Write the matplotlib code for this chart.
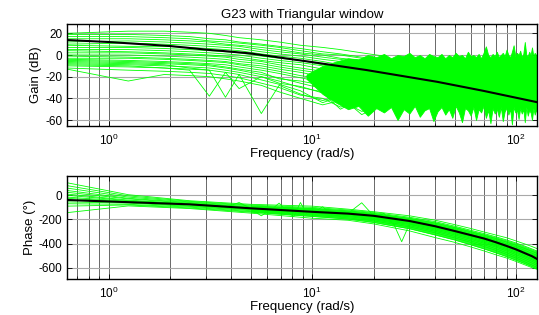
import numpy as np
import matplotlib
matplotlib.use("Agg")
import matplotlib.pyplot as plt
from matplotlib.ticker import LogLocator, NullFormatter, FixedLocator

plt.rcParams['font.family'] = ['Liberation Sans', 'DejaVu Sans']
plt.rcParams['mathtext.fontset'] = 'custom'
plt.rcParams['mathtext.rm'] = 'Liberation Sans'
plt.rcParams['axes.unicode_minus'] = False

title = "G23 with Triangular window"
xlabel = "Frequency (rad/s)"
gain_label = "Gain (dB)"
phase_label = "Phase (\u00b0)"
gain_ticks = [20, 0, -20, -40, -60]
phase_ticks = [0, -200, -400, -600]

# ---- nominal model (black) ----
f_black_gain = [0.625, 1.0, 2.0, 3.15, 3.5, 4.95, 9.7, 18.5, 41, 69, 127]
gain_black = [13.8, 12.0, 8.3, 4.6, 4.0, 1.5, -6.2, -13.9, -24.7, -33.0, -43.5]

f_ph = [0.625, 1.25, 2.5, 5, 10, 15, 20, 30, 40, 50, 60, 70, 80, 90, 100, 110, 120, 127]
phase_black = [-39, -57, -75, -108, -137, -152, -170, -213, -256, -296, -330, -359,
               -390, -420, -448, -478, -505, -528]

# ---- estimated gain curves (green), low / mid frequencies ----
f_lo = [0.625, 1.25, 1.875, 2.5, 3.125, 3.75, 4.375, 5.625, 6.875, 8.75, 11.25, 13.75, 17.5, 22.5]
g01 = [20, 22, 22, 21, 20, 18, 16, 14, 12, 9, 7, 5, 2, -1]
g02 = [19, 19, 18, 17, 15, 14, 12, 10, 8, 6, 3, 1, -2, -4]
g03 = [17, 17, 16, 15, 13, 12, 11, 9, 7, 4, 1, 0, -3, -6]
g04 = [15, 15, 14, 13, 12, 10, 9, 7, 5, 2, 0, -3, -5, -8]
g05 = [12, 13, 12, 11, 10, 9, 8, 5, 3, 1, -2, -4, -7, -10]
g06 = [10, 11, 10, 9, 8, 7, 6, 3, 1, -1, -4, -6, -9, -12]
g07 = [9, 8, 8, 7, 6, 5, 4, 1, -1, -3, -6, -9, -12, -15]
g08 = [7, 7, 6, 5, 4, 3, 2, -1, -3, -5, -9, -11, -14, -17]
g09 = [5, 5, 4, 3, 2, 1, 0, -3, -5, -7, -10, -13, -16, -19]
g10 = [4, 3, 2, 1, 0, -1, -2, -5, -7, -9, -13, -15, -19, -22]
g11 = [2, 2, 1, 0, -1, -2, -4, -6, -9, -12, -15, -18, -22, -25]
g12 = [0, 0, -1, -2, -3, -4, -6, -8, -11, -14, -17, -20, -24, -28]
g13 = [-1, -2, -3, -4, -5, -6, -8, -10, -13, -16, -20, -23, -27, -31]
g14 = [-3, -3, -4, -5, -6, -7, -9, -12, -15, -19, -22, -26, -30, -34]
g15 = [-4, -5, -6, -7, -8, -9, -11, -14, -17, -21, -25, -29, -33, -37]
g16 = [-5, -6, -7, -8, -9, -11, -13, -16, -22, -24, -28, -33, -36, -40]
g17 = [-6, -7, -8, -9, -10, -12, -14, -18, -21, -26, -31, -35, -38, -42]
g18 = [-8, -9, -10, -11, -12, -14, -16, -20, -24, -30, -34, -40, -42, -45]
g19 = [-10, -11, -12, -13, -14, -16, -18, -23, -27, -33, -44, -38, -45, -48]
g20 = [-12, -14, -15, -16, -17, -19, -21, -26, -30, -37, -40, -48, -44, -50]
g21 = [-13, -24, -18, -19, -20, -22, -24, -28, -34, -40, -46, -42, -52, -47]
g22 = [-9, -10, -12, -14, -38, -16, -31, -20, -26, -29, -35, -50, -40, -46]
g23 = [-7, -8, -9, -12, -14, -39, -18, -54, -28, -36, -42, -38, -55, -45]
gain_lines = [g01, g02, g03, g04, g05, g06, g07, g08, g09, g10, g11, g12,
              g13, g14, g15, g16, g17, g18, g19, g20, g21, g22, g23]

# ---- dense high-frequency gain band (upper / lower envelope) ----
f_hi = np.arange(9.375, 128.0, 1.875)
gain_hi_upper = [-18, -10, -6, -3, -4, 0, -2, 1, -3, 0, -1, 2, -2, 0, -3, 1,
                 -1, -2, 1, -3, 0, -2, 2, -1, 0, -3, 3, -1, 0, -2, 1, -3,
                 2, 8, 0, -2, 1, -1, 3, -2, 0, 2, -1, 5, 0, -2, 3, 9,
                 -1, 2, 0, 4, -2, 1, 12, 0, -1, 3, 0, 7, -1, 2, 0, 1]
gain_hi_lower = [-22, -36, -44, -50, -47, -56, -49, -53, -48, -60, -50, -54, -47, -57, -51, -49,
                 -61, -52, -48, -55, -50, -58, -47, -53, -62, -49, -51, -56, -48, -60, -50, -53,
                 -47, -58, -51, -63, -49, -54, -50, -57, -48, -61, -52, -49, -55, -50, -64, -48,
                 -53, -51, -59, -49, -54, -50, -62, -48, -56, -51, -53, -60, -49, -55, -51, -52]

# ---- estimated phase curves (green) ----
p01 = [104, 5, -45, -75, -90, -115, -136, -170, -206, -243, -275, -305, -330, -352, -378, -402, -425, -442]
p02 = [80, -5, -50, -82, -100, -122, -143, -182, -218, -256, -290, -318, -345, -370, -395, -420, -445, -462]
p03 = [60, -15, -55, -88, -110, -129, -150, -192, -230, -268, -302, -332, -360, -388, -415, -440, -465, -482]
p04 = [40, -25, -60, -95, -118, -137, -158, -202, -240, -278, -312, -342, -372, -402, -428, -455, -480, -498]
p05 = [25, -30, -65, -100, -125, -142, -163, -207, -248, -288, -322, -352, -382, -412, -440, -468, -492, -510]
p06 = [10, -40, -70, -105, -130, -147, -168, -212, -254, -294, -328, -358, -390, -420, -448, -476, -502, -520]
p07 = [0, -45, -72, -110, -135, -152, -175, -219, -263, -303, -338, -368, -400, -430, -458, -486, -512, -532]
p08 = [-15, -50, -78, -115, -140, -157, -182, -227, -270, -310, -345, -378, -410, -440, -470, -498, -525, -545]
p09 = [-25, -55, -82, -118, -145, -162, -187, -235, -278, -318, -355, -388, -420, -450, -480, -508, -535, -555]
p10 = [-40, -60, -88, -122, -150, -169, -195, -242, -288, -328, -365, -398, -430, -462, -492, -520, -548, -568]
p11 = [-55, -65, -92, -128, -158, -177, -202, -252, -298, -340, -378, -410, -444, -476, -506, -535, -562, -582]
p12 = [-70, -75, -98, -135, -165, -187, -212, -262, -310, -353, -390, -425, -458, -490, -520, -550, -578, -598]
p13 = [-90, -80, -105, -140, -175, -197, -225, -277, -328, -370, -410, -445, -478, -508, -538, -565, -592, -610]
p14 = [-144, -88, -110, -148, -190, -207, -237, -295, -350, -390, -428, -462, -494, -520, -548, -575, -600, -613]
phase_lines = [p01, p02, p03, p04, p05, p06, p07, p08, p09, p10, p11, p12, p13, p14]

# short jagged segments in the phase estimates
ps_f = [[12.5, 15, 17.5, 20], [25, 27.5, 30, 32.5], [3.75, 4.375, 5, 5.625],
        [6.25, 6.875, 7.5, 8.125], [7.5, 8.125, 8.75, 9.375], [5, 5.625, 6.25, 6.875],
        [10, 11.25, 12.5, 13.75], [20, 22.5, 25, 27.5]]
ps_v = [[-140, -150, -62, -170], [-230, -385, -240, -250], [-100, -60, -110, -115],
        [-125, -65, -130, -140], [-140, -175, -60, -150], [-115, -170, -120, -125],
        [-150, -95, -160, -175], [-190, -150, -240, -220]]

GREEN = '#00ff00'
FS = 8.5
FL = 9.5

fig = plt.figure(figsize=(5.39, 3.15), dpi=100)
ax1 = fig.add_axes([0.1243, 0.6, 0.872, 0.3238])
ax2 = fig.add_axes([0.1243, 0.1143, 0.872, 0.327])


def style(ax, yticks, ylim):
    ax.set_xscale('log')
    ax.set_xlim(0.625, 127)
    ax.set_ylim(*ylim)
    ax.yaxis.set_major_locator(FixedLocator(yticks))
    ax.xaxis.set_major_locator(LogLocator(base=10, numticks=10))
    ax.xaxis.set_minor_locator(LogLocator(base=10, subs=np.arange(2, 10), numticks=20))
    ax.xaxis.set_minor_formatter(NullFormatter())
    ax.tick_params(which='both', direction='in', top=True, right=True, labelsize=FS,
                   colors='black')
    ax.tick_params(which='major', length=3.5, width=0.6)
    ax.tick_params(which='minor', length=2, width=0.5)
    ax.tick_params(axis='x', which='major', pad=5)
    ax.set_axisbelow(True)
    ax.grid(True, axis='x', which='both', color='#505050', lw=0.6, ls='-')
    ax.grid(True, axis='y', which='major', color='#a8a8a8', lw=0.8, ls='-')
    for s in ax.spines.values():
        s.set_linewidth(1.0)
        s.set_color('black')
    ax.set_xlabel(xlabel, fontsize=FL, labelpad=0)


style(ax1, gain_ticks, (-65.5, 28.6))
style(ax2, phase_ticks, (-694, 160))

# gain
ax1.fill_between(f_hi, gain_hi_lower, gain_hi_upper, color=GREEN, lw=0.6, ec=GREEN)
for g in gain_lines:
    ax1.plot(f_lo, g, color=GREEN, lw=0.6)
ax1.plot(f_black_gain, gain_black, color='black', lw=1.5)
ax1.set_ylabel(gain_label, fontsize=FL, labelpad=2)
ax1.set_title(title, fontsize=FL, pad=4)

# phase
ax2.fill_between(f_ph[3:], p02[3:], p13[3:], color=GREEN, alpha=0.85, lw=0)
for p in phase_lines:
    ax2.plot(f_ph, p, color=GREEN, lw=0.6)
for fx, vy in zip(ps_f, ps_v):
    ax2.plot(fx, vy, color=GREEN, lw=0.6)
ax2.plot(f_ph, phase_black, color='black', lw=1.5)
ax2.set_ylabel(phase_label, fontsize=FL, labelpad=2)

fig.savefig('out.png', dpi=100)
